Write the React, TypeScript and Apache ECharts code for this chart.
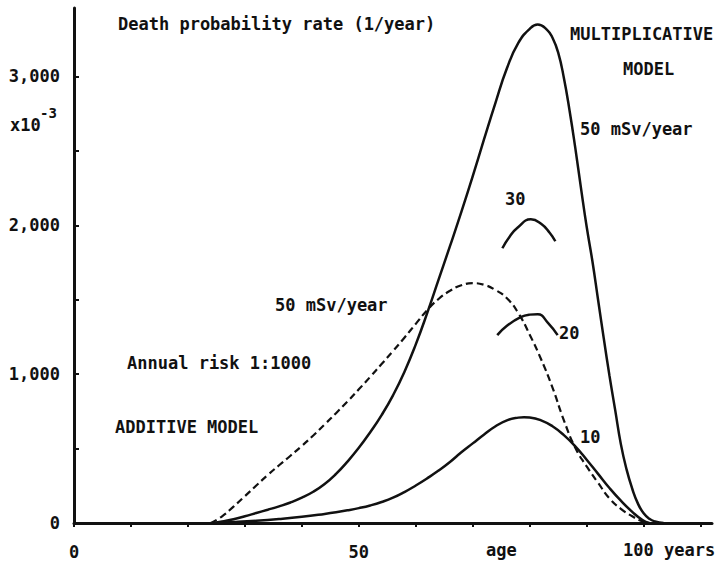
import React, { useEffect, useRef } from "react";
import * as echarts from "echarts";

// ---- data (age in years, death probability rate x10^-3 per year) ----
const mult50Age = [24.5, 26, 28, 30, 32, 34, 36, 38, 40, 42, 44, 46, 48, 50, 52, 54, 56, 58, 60, 62, 64, 66, 68, 70, 72, 74, 76, 78, 80, 81.4, 83, 84, 85, 86, 87, 88, 89, 90, 91, 92, 93, 94, 95, 96, 97, 98, 99, 100, 101, 102, 103.5];
const mult50Rate = [0, 10, 25, 45, 67, 89, 112, 138, 170, 210, 262, 330, 412, 505, 610, 725, 858, 1015, 1200, 1410, 1635, 1860, 2090, 2330, 2580, 2825, 3055, 3225, 3320, 3349, 3315, 3260, 3160, 2990, 2770, 2520, 2250, 1990, 1760, 1500, 1240, 990, 760, 530, 360, 230, 130, 65, 28, 10, 0];

const add50Age = [24, 26, 28, 30, 32, 34, 36, 38, 40, 42, 44, 46, 48, 50, 52, 54, 56, 58, 60, 62, 64, 66, 68, 70, 72, 74, 76, 78, 80, 82, 84, 86, 88, 90, 92, 94, 96, 98, 99.5, 100.5];
const add50Rate = [0, 45, 110, 180, 252, 322, 388, 452, 518, 588, 662, 738, 816, 898, 982, 1068, 1155, 1245, 1338, 1430, 1505, 1560, 1597, 1611, 1600, 1565, 1510, 1410, 1265, 1100, 910, 690, 505, 380, 270, 165, 95, 45, 15, 0];

const mult10Age = [24.5, 28, 32, 36, 40, 44, 46, 48, 50, 52, 54, 56, 58, 60, 62, 64, 66, 68, 70, 72, 74, 76, 78, 79, 80, 82, 84, 86, 88, 90, 92, 94, 96, 98, 99.8, 101];
const mult10Rate = [0, 6, 15, 27, 42, 61, 72, 85, 100, 118, 141, 170, 208, 252, 300, 352, 410, 475, 535, 595, 650, 690, 708, 711, 709, 690, 650, 590, 515, 425, 330, 235, 150, 75, 20, 0];

const mult30Age = [75.2, 76.5, 77.9, 80.2, 82, 83.5, 84.5];
const mult30Rate = [1846, 1925, 1985, 2040, 2010, 1950, 1893];

const mult20Age = [74.3, 76, 78.4, 80, 81.4, 83.2, 84.9];
const mult20Rate = [1262, 1325, 1383, 1400, 1403, 1345, 1262];

const yTickValues = [0, 500, 1000, 1500, 2000, 2500, 3000];
const yLabelValues = [0, 1000, 2000, 3000];
const xTickValues = [0, 10, 20, 30, 40, 50, 60, 70, 80, 90, 100, 110];
const xLabelValues = [0, 50];

const FONT = '"DejaVu Sans Mono", "Liberation Mono", monospace';
const INK = "#111111";

function pairs(a: number[], b: number[]) {
  return a.map((x, i) => [x, b[i]]);
}

function txt(text: string, x: number, y: number, size = 17, align = "left") {
  return {
    type: "text",
    x,
    y,
    silent: true,
    style: {
      text,
      fill: INK,
      fontSize: size,
      fontFamily: FONT,
      fontWeight: "bold",
      textAlign: align,
      textVerticalAlign: "middle",
    },
  };
}

export default function App() {
  const ref = useRef<HTMLDivElement>(null);
  useEffect(() => {
    if (!ref.current) return;
    const chart = echarts.init(ref.current, null, { renderer: "svg" });
    const lineBase = {
      type: "line",
      showSymbol: false,
      symbol: "none",
      smooth: 0.5,
      silent: true,
    };
    chart.setOption({
      animation: false,
      backgroundColor: "#ffffff",
      grid: { left: 74, right: 8, top: 8, bottom: 40, containLabel: false },
      xAxis: {
        type: "value",
        min: 0,
        max: 112,
        interval: 10,
        axisLine: { show: true, lineStyle: { color: INK, width: 3 } },
        axisTick: {
          show: true,
          inside: false,
          length: 4,
          lineStyle: { color: INK, width: 2 },
          customValues: xTickValues,
        },
        axisLabel: {
          customValues: xLabelValues,
          formatter: (v: number) => (xLabelValues.includes(v) ? String(v) : ""),
          color: INK,
          fontSize: 17,
          fontWeight: "bold",
          fontFamily: FONT,
          margin: 20,
        },
        splitLine: { show: false },
      },
      yAxis: {
        type: "value",
        min: 0,
        max: 3460,
        interval: 500,
        axisLine: { show: true, lineStyle: { color: INK, width: 3 } },
        axisTick: {
          show: true,
          inside: true,
          length: 5,
          lineStyle: { color: INK, width: 2 },
          customValues: yTickValues,
        },
        axisLabel: {
          customValues: yLabelValues,
          formatter: (v: number) =>
            yLabelValues.includes(v) ? (v === 0 ? "0" : v.toLocaleString("en-US")) : "",
          color: INK,
          fontSize: 17,
          fontWeight: "bold",
          fontFamily: FONT,
          margin: 14,
        },
        splitLine: { show: false },
      },
      series: [
        { ...lineBase, name: "Multiplicative 50 mSv/year", data: pairs(mult50Age, mult50Rate), lineStyle: { color: INK, width: 2.5 } },
        { ...lineBase, name: "Additive 50 mSv/year", data: pairs(add50Age, add50Rate), lineStyle: { color: INK, width: 2.2, type: [7, 4] } },
        { ...lineBase, name: "Multiplicative 10 mSv/year", data: pairs(mult10Age, mult10Rate), lineStyle: { color: INK, width: 2.5 } },
        { ...lineBase, name: "Multiplicative 30 mSv/year", data: pairs(mult30Age, mult30Rate), lineStyle: { color: INK, width: 2.5 } },
        { ...lineBase, name: "Multiplicative 20 mSv/year", data: pairs(mult20Age, mult20Rate), lineStyle: { color: INK, width: 2.5 } },
      ],
      graphic: [
        txt("Death probability rate (1/year)", 118, 24),
        txt("x10", 10, 125),
        txt("-3", 40, 113, 14),
        txt("MULTIPLICATIVE", 570, 34),
        txt("MODEL", 623, 69),
        txt("50 mSv/year", 580, 129),
        txt("30", 505, 199),
        txt("50 mSv/year", 275, 305),
        txt("20", 559, 333),
        txt("Annual risk 1:1000", 127, 363),
        txt("ADDITIVE MODEL", 115, 427),
        txt("10", 580, 437),
        txt("age", 486, 550),
        txt("100 years", 623, 550),
      ],
    });
    return () => chart.dispose();
  }, []);
  return (
    <div
      ref={ref}
      style={{ position: "absolute", left: 0, top: 0, width: 720, height: 563, background: "#fff" }}
    />
  );
}
